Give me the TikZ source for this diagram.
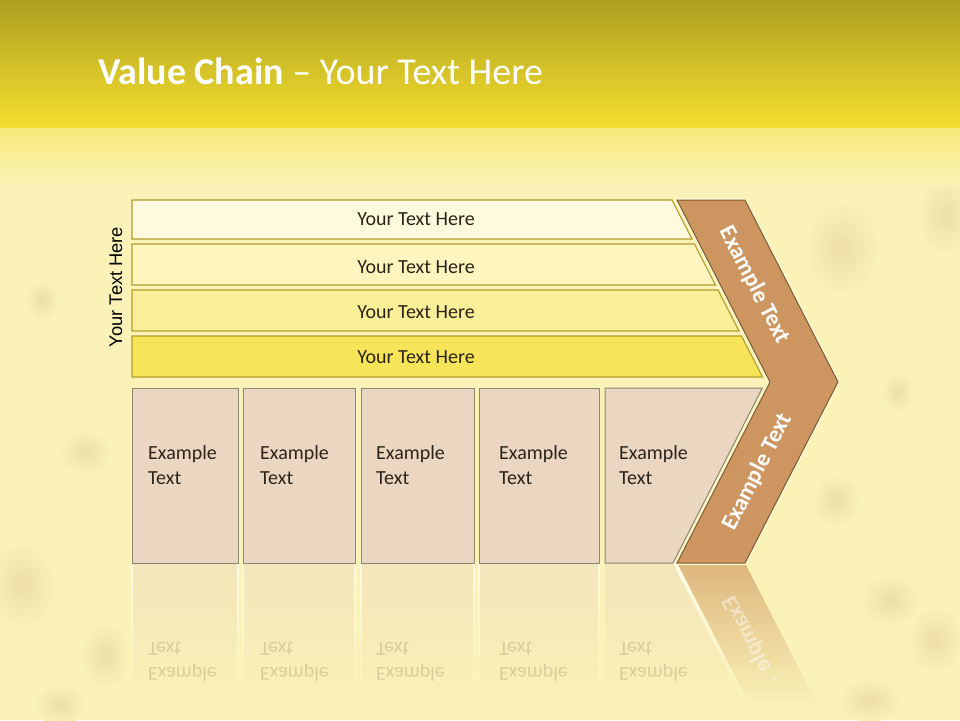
\documentclass[tikz,border=0pt]{standalone}
\usepackage{fontspec}
\setmainfont{Carlito}
\newfontfamily\arialfont{Liberation Sans}
\definecolor{bgc}{HTML}{FAF2B6}
\definecolor{blobc}{HTML}{EEDDA8}
\definecolor{hdrTop}{HTML}{AEA020}
\definecolor{hdrMid}{HTML}{D2C02A}
\definecolor{hdrBot}{HTML}{F4DF2E}
\definecolor{barline}{HTML}{B29C2C}
\definecolor{barA}{HTML}{FFF9DD}
\definecolor{barB}{HTML}{FDF4BE}
\definecolor{barC}{HTML}{FBEE98}
\definecolor{barD}{HTML}{F8E458}
\definecolor{boxfill}{HTML}{EBD6C1}
\definecolor{boxline}{HTML}{8C8674}
\definecolor{chevfill}{HTML}{CD955F}
\definecolor{chevline}{HTML}{7E5C32}
\definecolor{txt}{HTML}{2B241A}
\definecolor{glow}{HTML}{FDF8D4}
\begin{document}
\begin{tikzpicture}[x=1pt,y=-1pt,
  barshape/.style={draw=barline, line width=1.1pt},
  boxshape/.style={draw=boxline, fill=boxfill, line width=1pt},
  reflbox/.style={top color=boxfill!45!bgc, bottom color=bgc},
  bartext/.style={anchor=base, text=txt, inner sep=0pt, font=\fontsize{20}{24}\selectfont},
  boxtext/.style={anchor=base west, align=left, text=txt, inner sep=0pt, font=\fontsize{20}{25}\selectfont},
  refltext/.style={anchor=base west, align=left, text=txt, opacity=0.16, inner sep=0pt, yscale=-1, font=\fontsize{20}{25}\selectfont},
  chevtext/.style={text=white, inner sep=0pt, font=\bfseries\fontsize{23.5}{28}\selectfont},
  blob/.style={inner color=blobc, outer color=bgc}
]
\useasboundingbox (0,0) rectangle (960,720);
% background
\fill[bgc] (0,0) rectangle (960,720);
% soft blobs of the texture
\shade[blob] (42,300) ellipse (16 and 20);
\shade[blob] (85,452) ellipse (26 and 22);
\shade[blob] (22,585) ellipse (34 and 44);
\shade[blob] (105,655) ellipse (24 and 34);
\shade[blob] (60,705) ellipse (26 and 20);
\shade[blob] (842,248) ellipse (38 and 48);
\shade[blob] (945,215) ellipse (28 and 40);
\shade[blob] (898,392) ellipse (16 and 20);
\shade[blob] (836,500) ellipse (24 and 26);
\shade[blob] (890,600) ellipse (30 and 26);
\shade[blob] (935,640) ellipse (28 and 34);
\shade[blob] (870,700) ellipse (32 and 22);
% header
\shade[top color=hdrTop, middle color=hdrMid, bottom color=hdrBot] (0,0) rectangle (960,128);
\shade[top color=hdrBot!45!bgc, bottom color=bgc] (0,128) rectangle (960,185);
\node[anchor=base west, text=white, inner sep=0pt, font=\fontsize{38}{45}\selectfont] (title) at (98,84)
  {\textbf{Value Chain} – Your Text Here};
% reflections
\shade[reflbox] (132,563) rectangle (238,705);
\shade[reflbox] (243,563) rectangle (355,705);
\shade[reflbox] (361,563) rectangle (474,705);
\shade[reflbox] (479,563) rectangle (599,705);
\shade[reflbox] (605,563) -- (673,563) -- (745.6,705) -- (605,705) -- cycle;
\shade[top color=chevfill!65!bgc, bottom color=bgc] (677,563) -- (745,563) -- (817.6,705) -- (749.6,705) -- cycle;
\shade[top color=white!70!bgc, bottom color=bgc] (673,563) -- (677,563) -- (749.6,705) -- (745.6,705) -- cycle;
\foreach \xl/\xr in {132/238,243/355,361/474,479/599}{
  \shade[top color=white!60!bgc, bottom color=bgc] (\xl-0.6,563) rectangle (\xl+0.6,690);
  \shade[top color=white!60!bgc, bottom color=bgc] (\xr-0.6,563) rectangle (\xr+0.6,690);
}
\node[refltext] (r1) at (148,642) {Example\\Text};
\node[refltext] (r2) at (260,642) {Example\\Text};
\node[refltext] (r3) at (376,642) {Example\\Text};
\node[refltext] (r4) at (499,642) {Example\\Text};
\node[refltext] (r5) at (619,642) {Example\\Text};
\begin{scope}
  \clip (660,563) rectangle (860,678);
  \node[chevtext, opacity=0.45, yscale=-1, rotate=62.94] (rc) at (757.5,654) {Example Text};
\end{scope}
% bars
\path[barshape, fill=barA] (132,200) -- (672,200) -- (692,239) -- (132,239) -- cycle;
\path[barshape, fill=barB] (132,244) -- (694.5,244) -- (715.4,285) -- (132,285) -- cycle;
\path[barshape, fill=barC] (132,290) -- (718,290) -- (739,331) -- (132,331) -- cycle;
\path[barshape, fill=barD] (132,336) -- (741.5,336) -- (762.5,377) -- (132,377) -- cycle;
\node[bartext] (t1) at (416,225.5) {Your Text Here};
\node[bartext] (t2) at (416,273) {Your Text Here};
\node[bartext] (t3) at (416,318) {Your Text Here};
\node[bartext] (t4) at (416,363) {Your Text Here};
% boxes
\path[boxshape] (132,388) rectangle (238,563);
\path[boxshape] (243,388) rectangle (355,563);
\path[boxshape] (361,388) rectangle (474,563);
\path[boxshape] (479,388) rectangle (599,563);
\path[boxshape] (605,388) -- (762.4,388) -- (673,563) -- (605,563) -- cycle;
\node[boxtext] (e1) at (148,484) {Example\\Text};
\node[boxtext] (e2) at (260,484) {Example\\Text};
\node[boxtext] (e3) at (376,484) {Example\\Text};
\node[boxtext] (e4) at (499,484) {Example\\Text};
\node[boxtext] (e5) at (619,484) {Example\\Text};
% chevron
\draw[glow, line width=4pt, line join=miter] (677,200) -- (745,200) -- (838,382) -- (745,563) -- (677,563) -- (770,382) -- cycle;
\draw[fill=chevfill, draw=chevline, line width=1pt] (677,200) -- (745,200) -- (838,382) -- (745,563) -- (677,563) -- (770,382) -- cycle;
\node[chevtext, rotate=-62.94] (c1) at (754.5,285) {Example Text};
\node[chevtext, rotate=62.94] (c2) at (757.5,472) {Example Text};
% left vertical label
\node[rotate=90, text=black, inner sep=0pt, font=\arialfont\fontsize{18.3}{22}\selectfont] (side) at (116,287) {Your Text Here};
\end{tikzpicture}
\end{document}
